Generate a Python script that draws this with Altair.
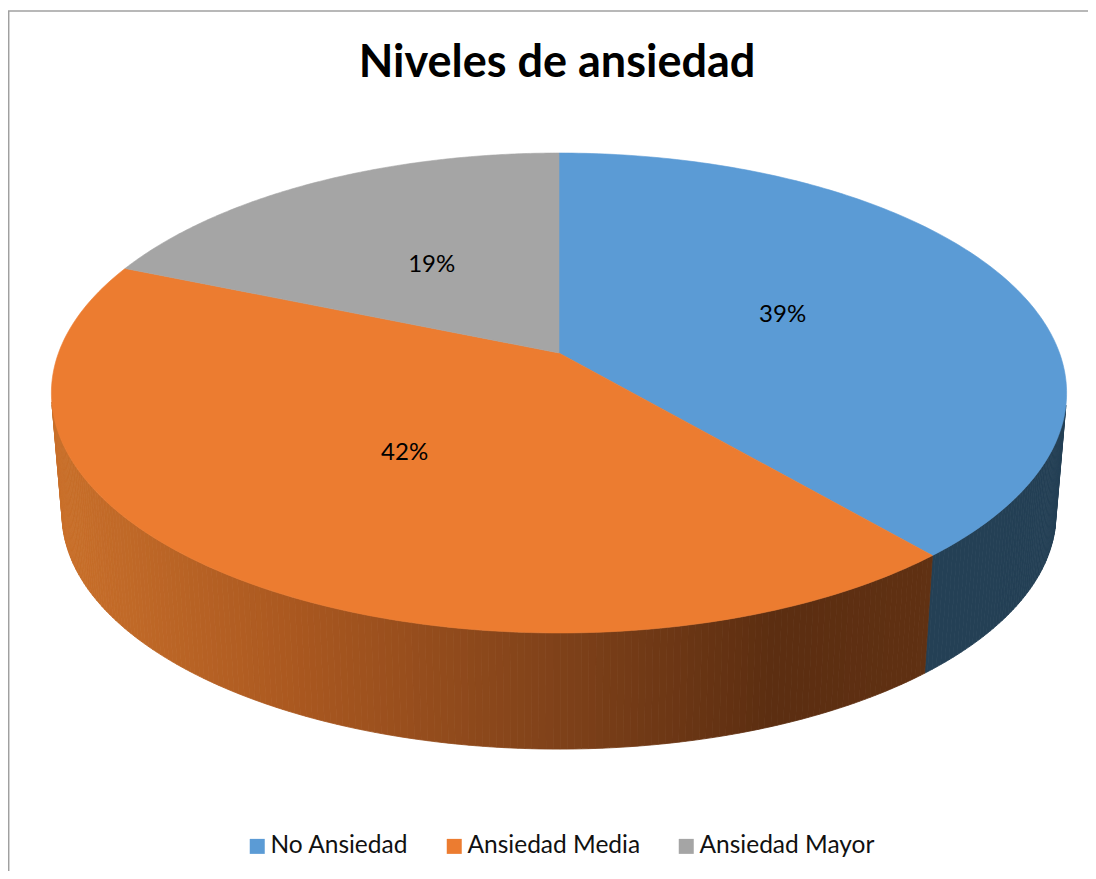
import math
import altair as alt
import numpy as np
import pandas as pd

categories = ["No Ansiedad", "Ansiedad Media", "Ansiedad Mayor"]
shares = [38.7, 42.6, 18.7]
labels = ["39%", "42%", "19%"]
colors = ["#5B9BD5", "#EC7C30", "#A5A5A5"]
title_text = "Niveles de ansiedad"

# shading of the rim, left to right across the chart
shade_x = [60, 300, 560, 780, 925]
shade_r = [201, 170, 128, 92, 96]
shade_g = [112, 88, 66, 46, 49]
shade_b = [43, 32, 26, 17, 19]
blue_side = "#244055"

CX, CY, A, B, K = 559.0, 353.0, 500.5, 233.3, 1 / 6
S, LOW_Y = 0.979, 475.0


def top(theta, r=1.0):
    u, v = r * math.sin(theta), r * math.cos(theta)
    w = 1 + K * v
    return CX + A * u / w, CY - B * v / w


def low(theta):
    u, v = math.sin(theta), math.cos(theta)
    w = 1 + K * v
    return CX + S * A * u / w, LOW_Y - S * B * v / w


bounds = np.cumsum([0] + shares) / 100 * 2 * math.pi

rows = []
for i, cat in enumerate(categories):
    a0, a1 = bounds[i], bounds[i + 1]
    pts = [(CX, CY)] + [top(t) for t in np.linspace(a0, a1, 160)] + [(CX, CY)]
    for j, (x, y) in enumerate(pts):
        rows.append(dict(cat=cat, x=x, y=y, o=j))
faces = pd.DataFrame(rows)

rows = []
sid = 0
for i in range(2):  # only the two slices that show a rim
    for t0 in np.arange(bounds[i], bounds[i + 1], 0.012):
        if top(t0)[1] < 405:  # the back of the rim is hidden
            continue
        t1 = min(t0 + 0.012, bounds[i + 1])
        xm = top(t0)[0]
        if i == 0:
            col = blue_side
        else:
            col = "#%02x%02x%02x" % tuple(
                int(np.interp(xm, shade_x, c)) for c in (shade_r, shade_g, shade_b)
            )
        quad = [top(t0), top(t1), low(t1), low(t0), top(t0)]
        for j, (x, y) in enumerate(quad):
            rows.append(dict(s=sid, c=col, x=x, y=y, o=j))
        sid += 1
rim = pd.DataFrame(rows)

lab_rows = []
for i, t in enumerate(labels):
    x, y = top((bounds[i] + bounds[i + 1]) / 2, 0.49)
    lab_rows.append(dict(t=t, x=x, y=y + 1))
lab = pd.DataFrame(lab_rows)

W, H = 1080, 863
xs = alt.Scale(domain=[8, 8 + W], range=[0, W])
ys = alt.Scale(domain=[8, 8 + H], range=[0, H])
X = lambda f="x": alt.X(f, type="quantitative", scale=xs, axis=None)
Y = lambda f="y": alt.Y(f, type="quantitative", scale=ys, axis=None)

rim_layer = alt.Chart(rim).mark_line(fill="#000", strokeWidth=0.8, strokeJoin="bevel").encode(
    X(), Y(), order="o:Q", detail="s:N",
    fill=alt.Fill("c:N", scale=None, legend=None),
    stroke=alt.Stroke("c:N", scale=None, legend=None),
)

color_scale = alt.Scale(domain=categories, range=colors)
face_layer = alt.Chart(faces).mark_line(fill="#000", strokeWidth=0.6, strokeJoin="bevel").encode(
    X(), Y(), order="o:Q", detail="cat:N",
    stroke=alt.Stroke("cat:N", scale=color_scale, legend=None),
    fill=alt.Fill(
        "cat:N",
        scale=color_scale,
        sort=categories,
        legend=alt.Legend(
            title=None, orient="none", legendX=237, legendY=826, direction="horizontal",
            columns=3, symbolType="square", symbolSize=225, symbolStrokeWidth=0,
            labelFont="Lato", labelFontSize=24.5, labelColor="#111111", labelLimit=300,
            columnPadding=33, symbolOpacity=1, labelOffset=1,
        ),
    ),
)

label_layer = alt.Chart(lab).mark_text(font="Lato", fontSize=24, color="#000000").encode(
    X(), Y(), text="t:N"
)

title_layer = alt.Chart(pd.DataFrame({"t": [title_text], "x": [557], "y": [63]})).mark_text(
    font="Lato", fontSize=45, fontWeight="bold", color="#000000"
).encode(X(), Y(), text="t:N")

frame_color = "#A0A0A0"
frame_top = alt.Chart(pd.DataFrame({"y": [11], "x": [8], "x2": [1088]})).mark_rule(
    color=frame_color, strokeWidth=1.5
).encode(X(), x2="x2:Q", y=Y())
frame_left = alt.Chart(pd.DataFrame({"x": [8.7], "y": [11], "y2": [871]})).mark_rule(
    color=frame_color, strokeWidth=1.5
).encode(X(), Y(), y2="y2:Q")

chart = (
    alt.layer(frame_top, frame_left, rim_layer, face_layer, label_layer, title_layer)
    .resolve_scale(fill="independent", stroke="independent")
    .resolve_legend(fill="independent", stroke="independent")
    .properties(width=W, height=H, padding=0, autosize=alt.AutoSizeParams(type="none"))
    .configure_view(stroke=None)
)
chart.save("out.html", embed_options={"renderer": "svg", "actions": False})
